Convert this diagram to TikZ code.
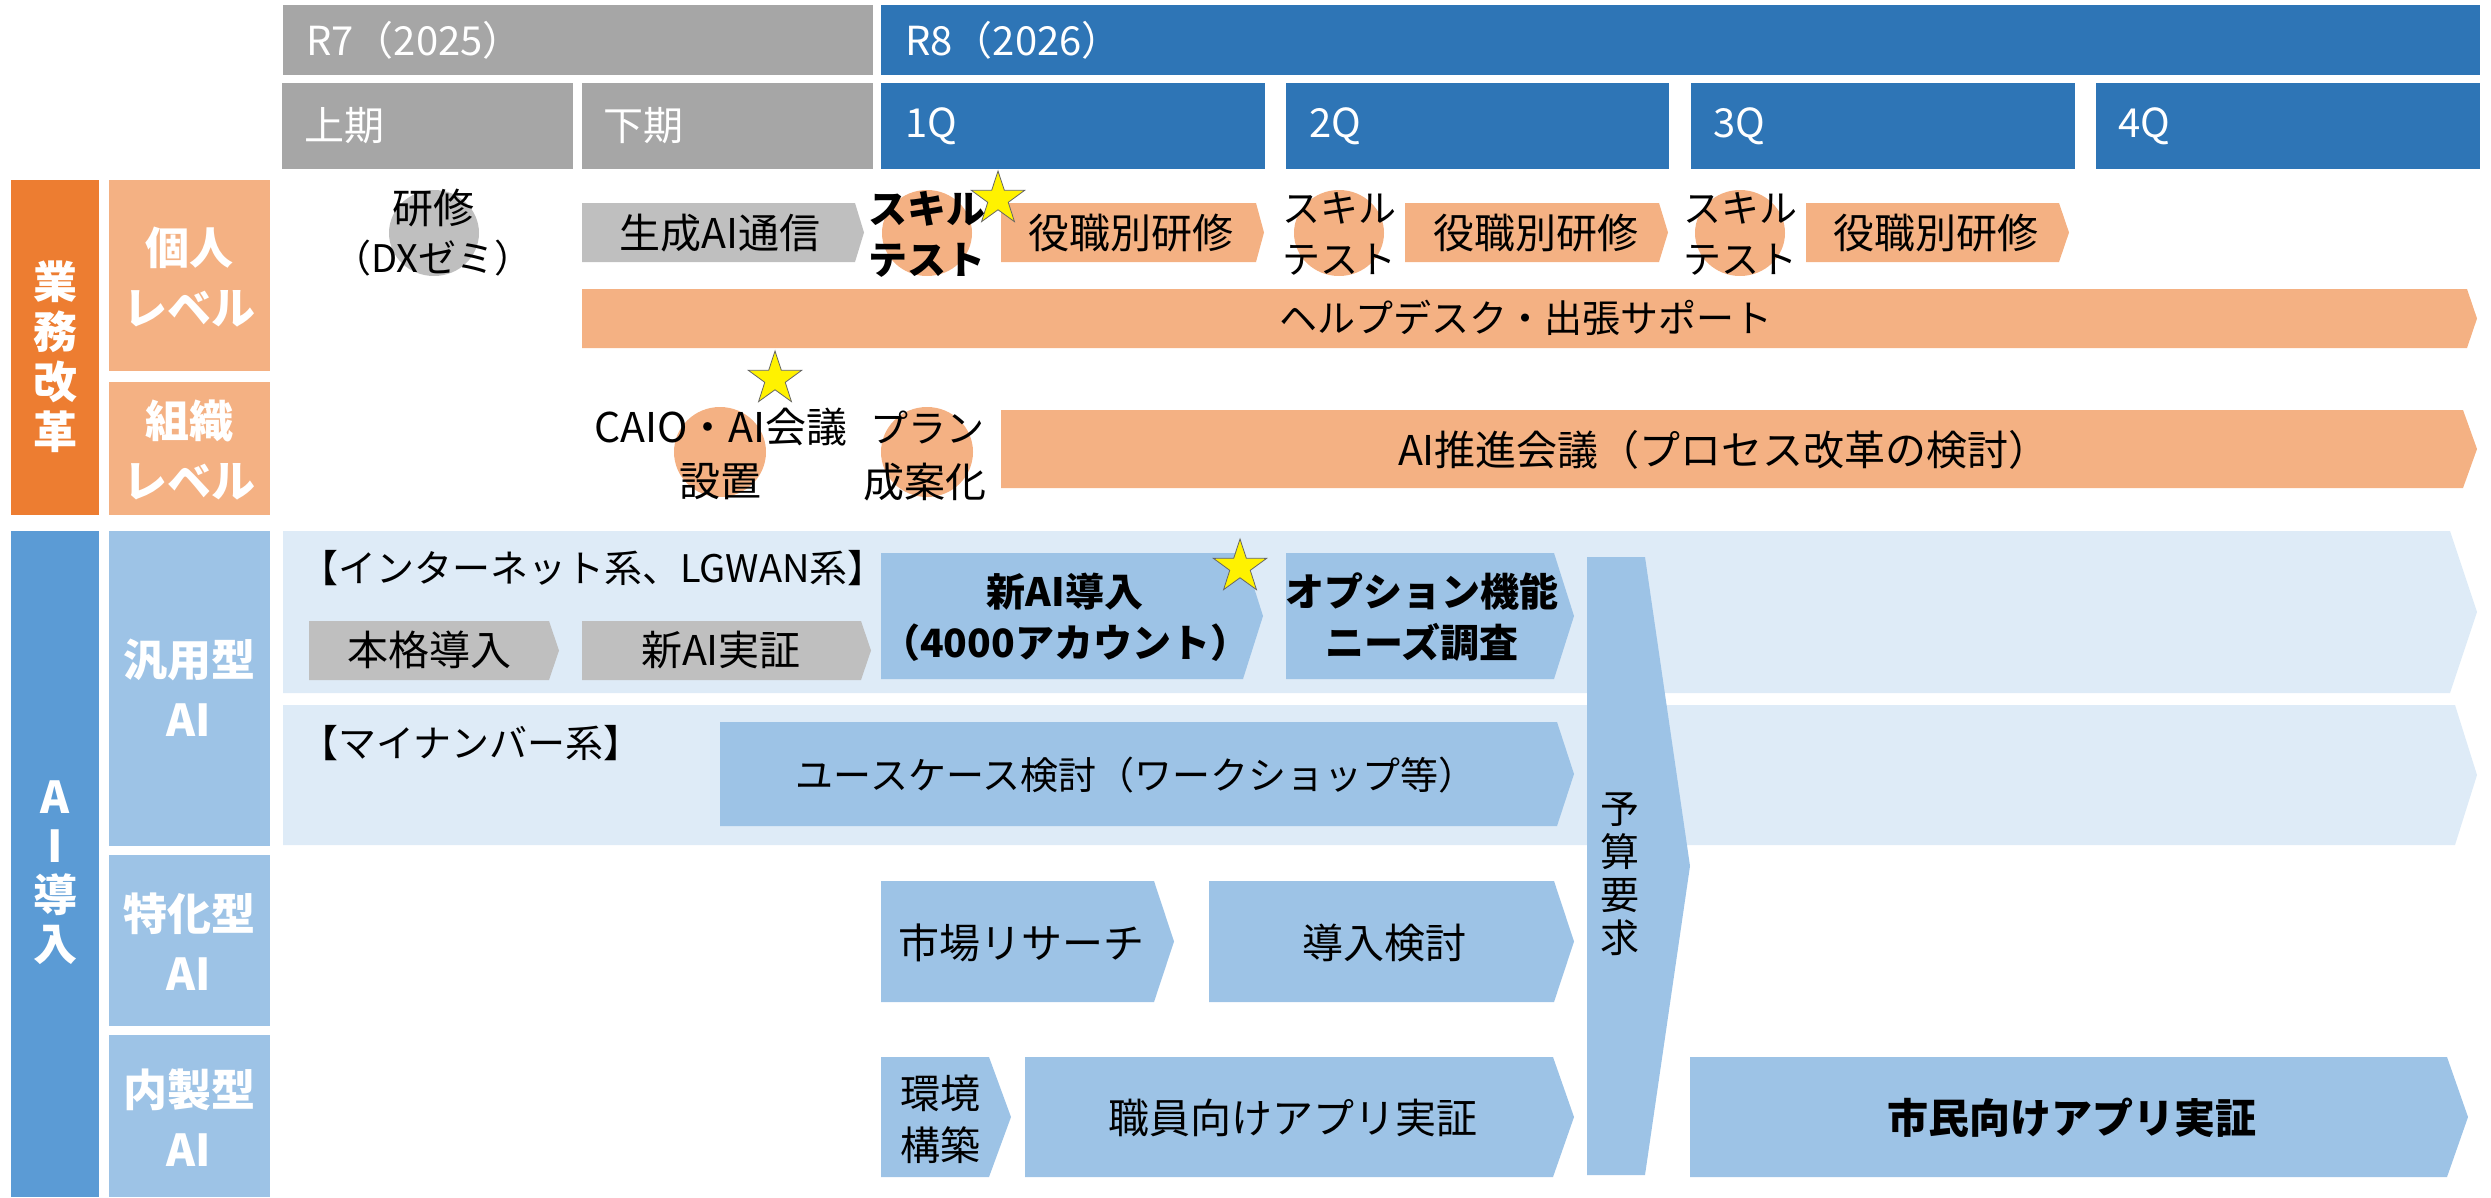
\documentclass[tikz,border=0pt]{standalone}
\usepackage{fontspec}
\setmainfont{Noto Sans CJK JP}
\usetikzlibrary{shapes.geometric}
\definecolor{hdrgray}{HTML}{A6A6A6}
\definecolor{hdrblue}{HTML}{2E75B6}
\definecolor{dorange}{HTML}{ED7D31}
\definecolor{lorange}{HTML}{F4B183}
\definecolor{dblue}{HTML}{5B9BD5}
\definecolor{mblue}{HTML}{9DC3E6}
\definecolor{lblue}{HTML}{DEEBF7}
\definecolor{agray}{HTML}{BFBFBF}
\newcommand{\chevbox}[6]{\fill[#6] (#1,#2) -- (#3,#2) -- (#5,{(#2+#4)/2}) -- (#3,#4) -- (#1,#4) -- cycle;}
\begin{document}
\begin{tikzpicture}[x=1pt,y=-1pt,
 hdr/.style={text=white,anchor=west,font=\fontsize{40}{48}\selectfont,inner sep=0},
 side/.style={text=white,font=\fontsize{44}{60}\bfseries\selectfont,align=center,inner sep=0},
 lbl/.style={text=black,font=\fontsize{38}{51}\selectfont,align=center,inner sep=0},
 lblb/.style={text=black,font=\fontsize{41}{51}\selectfont,align=center,inner sep=0},
 blbl/.style={text=black,font=\fontsize{39}{51}\bfseries\selectfont,align=center,inner sep=0},
 starmark/.style={star,star points=5,star point ratio=2.6,minimum size=56pt,inner sep=0,fill=yellow,draw=black!60,line width=0.8pt}]
\useasboundingbox (0,0) rectangle (2491,1197);
% header
\fill[hdrgray] (283,5) rectangle (873,75);
\node[hdr] (r7) at (306,40) {R7（2025）};
\fill[hdrblue] (881,5) rectangle (2480,75);
\node[hdr] (r8) at (905,40) {R8（2026）};
\fill[hdrgray] (282,83) rectangle (573,169);
\node[hdr] (kami) at (304,126) {上期};
\fill[hdrgray] (582,83) rectangle (873,169);
\node[hdr] (shimo) at (603,126) {下期};
\fill[hdrblue] (881,83) rectangle (1265,169);
\node[hdr] (q1) at (905,126) {1Q};
\fill[hdrblue] (1286,83) rectangle (1669,169);
\node[hdr] (q2) at (1309,126) {2Q};
\fill[hdrblue] (1691,83) rectangle (2075,169);
\node[hdr] (q3) at (1713,126) {3Q};
\fill[hdrblue] (2096,83) rectangle (2480,169);
\node[hdr] (q4) at (2118,126) {4Q};
% left labels
\fill[dorange] (11,180) rectangle (99,515);
\node[side,font=\fontsize{44}{50}\bfseries\selectfont] (gyomu) at (55,357) {業\\務\\改\\革};
\fill[lorange] (109,180) rectangle (270,371);
\node[side] (kojin) at (189,277) {個人\\レベル};
\fill[lorange] (109,382) rectangle (270,515);
\node[side] (soshiki) at (189,450) {組織\\レベル};
\fill[dblue] (11,531) rectangle (99,1197);
\node[side,font=\fontsize{44}{49}\bfseries\selectfont] (aidonyu) at (55,873) {A\\I\\導\\入};
\fill[mblue] (109,531) rectangle (270,846);
\node[side] (hanyo) at (189,688) {汎用型\\AI};
\fill[mblue] (109,855) rectangle (270,1026);
\node[side] (tokka) at (189,942) {特化型\\AI};
\fill[mblue] (109,1035) rectangle (270,1197);
\node[side] (naisei) at (189,1118) {内製型\\AI};
% upper section
\fill[agray] (434,233) ellipse [x radius=45, y radius=43];
\node[lblb] (kenshu) at (433,208) {研修};
\node[lbl] (dxzemi) at (433,258) {（DXゼミ）};
\chevbox{582}{203}{855}{262}{864}{agray}
\node[lblb] (tsushin) at (720,233) {生成AI通信};
\fill[lorange] (927,233) ellipse [x radius=45, y radius=43];
\node[blbl] (skill1) at (927,234) {スキル\\テスト};
\chevbox{1001}{203}{1256}{262}{1264}{lorange}
\node[lblb] (yaku1) at (1131,233) {役職別研修};
\fill[lorange] (1339,233) ellipse [x radius=45, y radius=43];
\node[lbl] (skill2) at (1339,234) {スキル\\テスト};
\chevbox{1405}{203}{1659}{262}{1668}{lorange}
\node[lblb] (yaku2) at (1536,233) {役職別研修};
\fill[lorange] (1740,233) ellipse [x radius=45, y radius=43];
\node[lbl] (skill3) at (1740,234) {スキル\\テスト};
\chevbox{1806}{203}{2059}{262}{2069}{lorange}
\node[lblb] (yaku3) at (1936,233) {役職別研修};
\chevbox{582}{289}{2467}{348}{2477}{lorange}
\node[lbl] (help) at (1526,318) {ヘルプデスク・出張サポート};
\fill[lorange] (720,452) ellipse [x radius=46, y radius=45];
\node[lblb] (caio) at (721,427) {CAIO・AI会議};
\node[lblb] (setchi) at (720,482) {設置};
\fill[lorange] (927,452) ellipse [x radius=46, y radius=45];
\node[lbl] (plan) at (927,427) {プラン};
\node[lblb] (seian) at (925,482) {成案化};
\chevbox{1001}{410}{2463}{488}{2477}{lorange}
\node[lblb] (suishin) at (1724,450) {AI推進会議（プロセス改革の検討）};
% AI section backgrounds
\chevbox{283}{531}{2450}{693}{2477}{lblue}
\chevbox{283}{705}{2455}{845}{2477}{lblue}
\node[lbl,anchor=west] (inet) at (300,568) {【インターネット系、LGWAN系】};
\node[lbl,anchor=west] (mynum) at (300,743) {【マイナンバー系】};
\chevbox{309}{621}{549}{680}{559}{agray}
\node[lblb] (honkaku) at (429,650) {本格導入};
\chevbox{582}{621}{861}{680}{871}{agray}
\node[lblb] (jissho) at (721,650) {新AI実証};
\chevbox{881}{553}{1243}{679}{1263}{mblue}
\node[blbl] (shinai) at (1065,617) {新AI導入\\（4000アカウント）};
\chevbox{1286}{553}{1554}{679}{1574}{mblue}
\node[blbl] (option) at (1422,617) {オプション機能\\ニーズ調査};
\chevbox{720}{722}{1557}{826}{1574}{mblue}
\node[lbl] (usecase) at (1136,775) {ユースケース検討（ワークショップ等）};
\fill[mblue] (1587,557) -- (1645,557) -- (1690,866) -- (1645,1175) -- (1587,1175) -- cycle;
\node[lbl,font=\fontsize{39}{43}\selectfont] (yosan) at (1620,874) {予\\算\\要\\求};
\chevbox{881}{881}{1154}{1002}{1174}{mblue}
\node[lblb] (shijo) at (1021,943) {市場リサーチ};
\chevbox{1209}{881}{1554}{1002}{1574}{mblue}
\node[lblb] (kento) at (1384,943) {導入検討};
\chevbox{881}{1057}{989}{1177}{1011}{mblue}
\node[lblb,font=\fontsize{40}{52}\selectfont] (kankyo) at (940,1119) {環境\\構築};
\chevbox{1025}{1057}{1553}{1177}{1574}{mblue}
\node[lblb] (shokuin) at (1293,1118) {職員向けアプリ実証};
\chevbox{1690}{1057}{2447}{1177}{2468}{mblue}
\node[blbl,font=\fontsize{41}{51}\bfseries\selectfont] (shimin) at (2072,1118) {市民向けアプリ実証};
% stars
\node[starmark] (star1) at (998,199) {};
\node[starmark] (star2) at (775,379) {};
\node[starmark] (star3) at (1240,567) {};
\end{tikzpicture}
\end{document}
